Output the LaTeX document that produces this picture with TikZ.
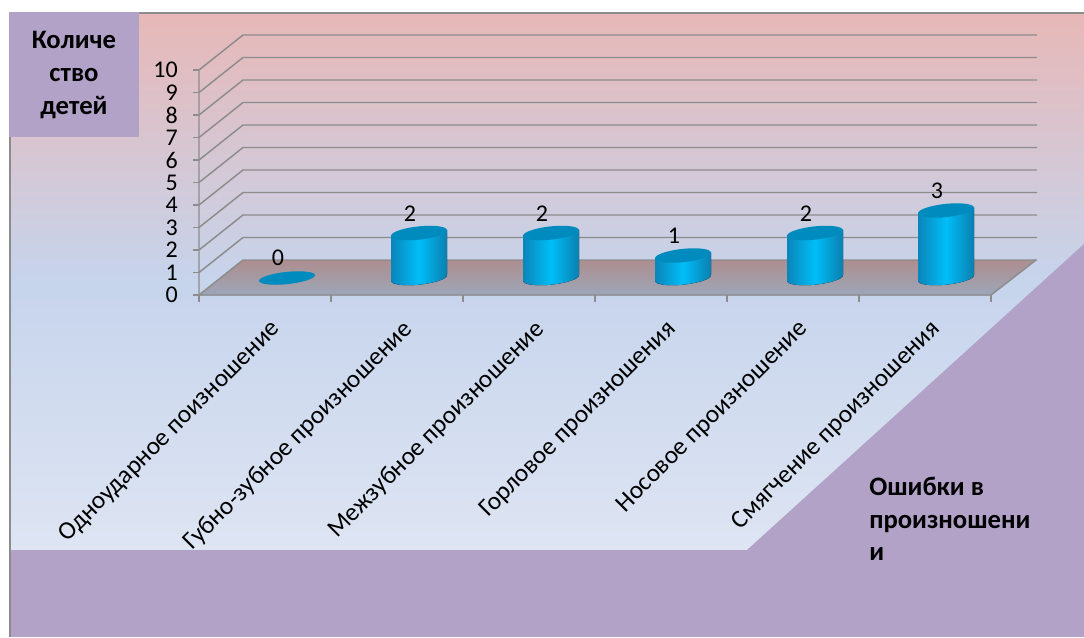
\documentclass[tikz,border=0pt]{standalone}
\usepackage{fontspec}
\setmainfont{Carlito}
\definecolor{bgtop}{HTML}{E7B8B7}
\definecolor{bgmid}{HTML}{C6D4EC}
\definecolor{bgbot}{HTML}{DEE5F3}
\definecolor{lav}{HTML}{B2A2C7}
\definecolor{gridgray}{HTML}{8C8C8C}
\definecolor{floorback}{HTML}{AE8E8F}
\definecolor{floorfront}{HTML}{9CA6B8}
\definecolor{cylA}{HTML}{0A86BA}
\definecolor{cylB}{HTML}{00BEF8}
\definecolor{cylC}{HTML}{0A7FB0}
\definecolor{cylTop}{HTML}{008BBE}
\begin{document}
\begin{tikzpicture}[x=0.75pt,y=-0.75pt,
  grid/.style={draw=gridgray, line width=1.1pt},
  numlab/.style={font=\fontsize{18}{21}\selectfont, inner sep=0pt},
  catlab/.style={font=\fontsize{19}{22}\selectfont, inner sep=0pt, rotate=45, anchor=north east},
  boldlab/.style={font=\fontsize{20}{24.5}\selectfont\bfseries, inner sep=0pt},
  cylbody/.style={left color=cylA, right color=cylC, middle color=cylB},
  cyltop/.style={fill=cylTop},
]
\useasboundingbox (0,0) rectangle (1084,637);
\fill[white] (0,0) rectangle (1084,637);
% background
\fill[top color=bgtop, bottom color=bgbot, middle color=bgmid] (10,13) rectangle (1084,550);
\fill[lav] (10,550) rectangle (1084,637);
\fill[lav] (747,550) -- (1084,244) -- (1084,550) -- cycle;
% frame
\draw[gridgray, line width=1.2pt] (10,637) -- (10,13) -- (1084,13);
% top-left box
\fill[lav] (9.4,12.4) rectangle (139,137);
\node[boldlab, align=center] (ylab) at (74,75) {Количе\\ство\\детей};
% axis title bottom right
\node[boldlab, align=left, anchor=north west] (xlab) at (869,477) {Ошибки в\\произношени\\и};
% floor
\fill[top color=floorback, bottom color=floorfront] (199,295) -- (243,260) -- (1036,260) -- (991,295) -- cycle;
% gridlines
\foreach \v in {0,...,10} {
  \draw[grid] (199,{295-22.5*\v}) -- (243,{260-22.5*\v}) -- (1037,{260-22.5*\v});
  \draw[grid] (193,{295-22.5*\v}) -- (199,{295-22.5*\v});
  \node[numlab, anchor=east] (y\v) at (178,{295-22.5*\v}) {\v};
}
\draw[grid] (199,70) -- (199,295) -- (991,295) -- (1036,260);
\foreach \x in {199,331,463,595,727,859,991} \draw[grid] (\x,295) -- (\x,302);
% zero bar
\begin{scope}[shift={(287,278)}, yslant=0.1]
  \fill[cyltop] (0,0) ellipse[x radius=21pt, y radius=4.6pt];
\end{scope}
\node[numlab] (v1) at (278,258) {0};
% bars
\foreach \c/\v/\n in {419/2/2, 551/2/3, 683/1/4, 815/2/5, 946/3/6} {
  \pgfmathsetmacro{\h}{22.5*\v}
  \begin{scope}[shift={(\c,278)}, yslant=0.1]
    \fill[cylbody] (-28,-\h) -- (-28,0) arc[start angle=180, end angle=360, x radius=21pt, y radius=5pt] -- (28,-\h) -- cycle;
    \fill[cyltop] (0,-\h) ellipse[x radius=21pt, y radius=5pt];
  \end{scope}
  \node[numlab] (v\n) at ({\c-9},{278-\h-19.5}) {\v};
}
% category labels
\node[catlab] (c1) at (269,318) {Одноударное поизношение};
\node[catlab] (c2) at (401,318) {Губно-зубное произношение};
\node[catlab] (c3) at (533,318) {Межзубное произношение};
\node[catlab] (c4) at (665,318) {Горловое произношения};
\node[catlab] (c5) at (797,318) {Носовое произношение};
\node[catlab] (c6) at (929,318) {Смягчение произношения};
\end{tikzpicture}
\end{document}
